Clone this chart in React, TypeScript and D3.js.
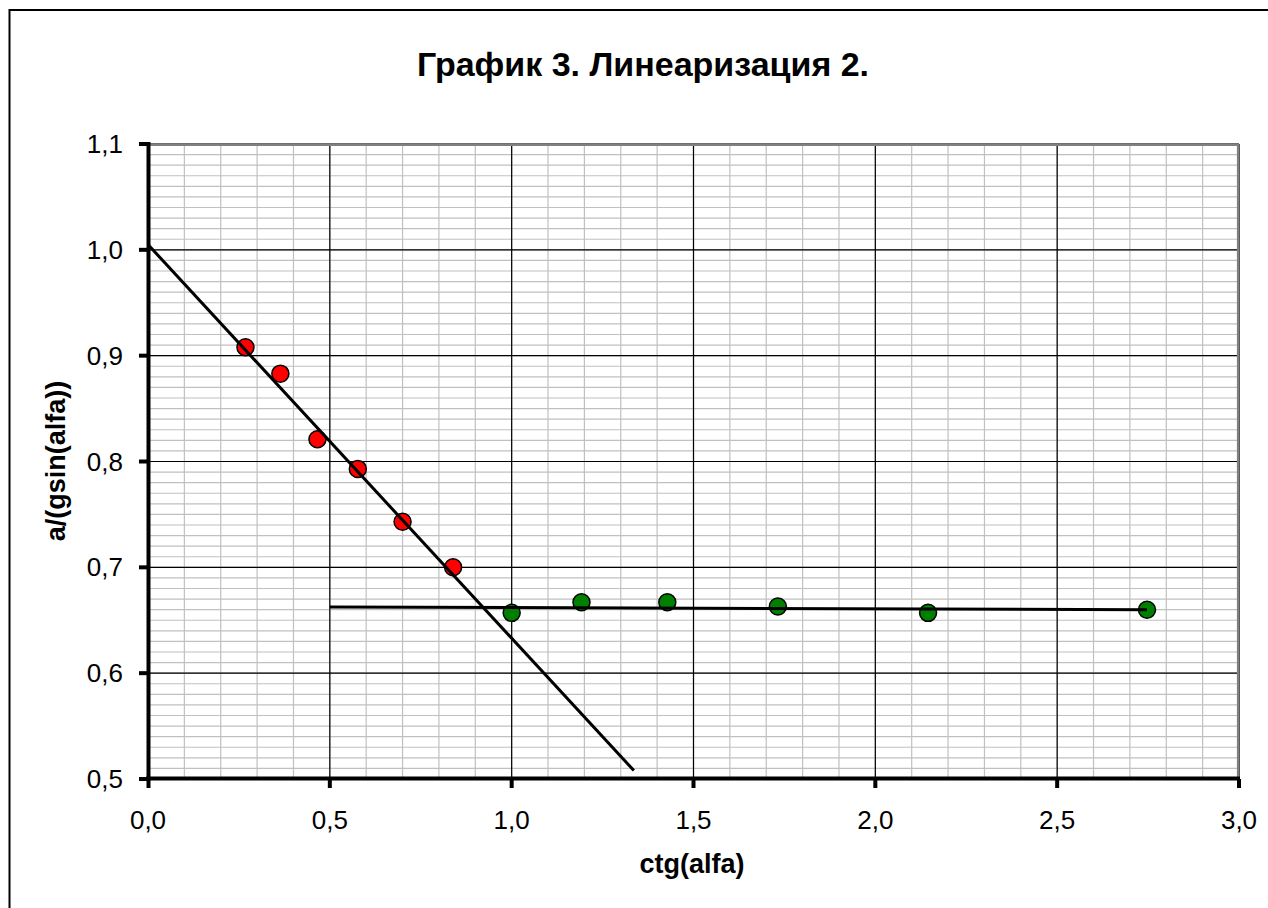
import React from 'react';
import * as d3 from 'd3';

const redX = [0.268, 0.364, 0.466, 0.577, 0.700, 0.839];
const redY = [0.908, 0.883, 0.821, 0.793, 0.743, 0.700];
const greenX = [1.000, 1.192, 1.428, 1.732, 2.145, 2.747];
const greenY = [0.657, 0.667, 0.667, 0.663, 0.657, 0.660];
const redTrendX = [0, 1.336];
const redTrendY = [1.005, 0.508];
const greenTrendX = [0.5, 2.747];
const greenTrendY = [0.6625, 0.660];
const xTicks = [0, 0.5, 1.0, 1.5, 2.0, 2.5, 3.0];
const yTicks = [0.5, 0.6, 0.7, 0.8, 0.9, 1.0, 1.1];
const xMinorStep = 0.1;
const yMinorStep = 0.01;
const title = 'График 3. Линеаризация 2.';
const xTitle = 'ctg(alfa)';
const yTitle = 'a/(gsin(alfa))';

const W = 1268;
const H = 908;
const L = 148, R = 1239, T = 144, B = 779;
const FONT = '"Liberation Sans", Arial, sans-serif';

export default function App() {
  const x = d3.scaleLinear().domain([0, 3]).range([L, R]);
  const y = d3.scaleLinear().domain([0.5, 1.1]).range([B, T]);
  const fmt = (v: number) => d3.format('.1f')(v).replace('.', ',');

  const xMinor = d3.range(0, Math.round(3 / xMinorStep) + 1).map((i) => i * xMinorStep);
  const yMinor = d3.range(0, Math.round(0.6 / yMinorStep) + 1).map((i) => 0.5 + i * yMinorStep);

  const line = d3
    .line<[number, number]>()
    .x((d) => x(d[0]))
    .y((d) => y(d[1]));
  const redTrend = redTrendX.map((v, i) => [v, redTrendY[i]] as [number, number]);
  const greenTrend = greenTrendX.map((v, i) => [v, greenTrendY[i]] as [number, number]);

  return (
    <svg
      width={W}
      height={H}
      style={{ position: 'absolute', left: 0, top: 0, background: '#fff' }}
      fontFamily={FONT}
    >
      <rect x={0} y={0} width={W} height={H} fill="#fff" />
      <rect x={9.5} y={10} width={W + 20} height={H + 20} fill="none" stroke="#000" strokeWidth={2} />

      {/* minor grid */}
      {yMinor.map((v, i) => (
        <line key={'ym' + i} x1={L} x2={R} y1={y(v)} y2={y(v)} stroke="#c0c0c0" strokeWidth={1.2} />
      ))}
      {xMinor.map((v, i) => (
        <line key={'xm' + i} x1={x(v)} x2={x(v)} y1={T} y2={B} stroke="#c0c0c0" strokeWidth={1.2} />
      ))}
      {/* major grid */}
      {yTicks.map((v, i) => (
        <line key={'yM' + i} x1={L} x2={R} y1={y(v)} y2={y(v)} stroke="#000" strokeWidth={1.2} />
      ))}
      {xTicks.map((v, i) => (
        <line key={'xM' + i} x1={x(v)} x2={x(v)} y1={T} y2={B} stroke="#000" strokeWidth={1.2} />
      ))}
      {/* plot border top/right */}
      <line x1={L} x2={R} y1={T + 1} y2={T + 1} stroke="#808080" strokeWidth={2.2} />
      <line x1={R - 1} x2={R - 1} y1={T} y2={B} stroke="#808080" strokeWidth={2.2} />

      {/* markers */}
      {redX.map((v, i) => (
        <circle key={'r' + i} cx={x(v)} cy={y(redY[i])} r={8.5} fill="#ff0000" stroke="#000" strokeWidth={1.5} />
      ))}
      {greenX.map((v, i) => (
        <circle key={'g' + i} cx={x(v)} cy={y(greenY[i])} r={8.5} fill="#008000" stroke="#000" strokeWidth={1.5} />
      ))}

      {/* trend lines */}
      <path d={line(redTrend) || ''} fill="none" stroke="#000" strokeWidth={3} />
      <path d={line(greenTrend) || ''} fill="none" stroke="#000" strokeWidth={3} />

      {/* axes */}
      <line x1={L + 0.5} x2={L + 0.5} y1={T - 2} y2={B + 2} stroke="#000" strokeWidth={4} />
      <line x1={L - 2} x2={R + 1} y1={B - 0.5} y2={B - 0.5} stroke="#000" strokeWidth={4} />
      {yTicks.map((v, i) => (
        <line key={'yt' + i} x1={L - 9} x2={L} y1={y(v)} y2={y(v)} stroke="#000" strokeWidth={4} />
      ))}
      {xTicks.map((v, i) => (
        <line key={'xt' + i} x1={x(v) + (i === 0 ? 0.5 : 0)} x2={x(v) + (i === 0 ? 0.5 : 0)} y1={B} y2={B + 9} stroke="#000" strokeWidth={4} />
      ))}

      {/* tick labels */}
      {yTicks.map((v, i) => (
        <text key={'yl' + i} x={123} y={y(v)} dy="0.35em" textAnchor="end" fontSize={26} fill="#000">
          {fmt(v)}
        </text>
      ))}
      {xTicks.map((v, i) => (
        <text key={'xl' + i} x={x(v)} y={829} textAnchor="middle" fontSize={26} fill="#000">
          {fmt(v)}
        </text>
      ))}

      {/* titles */}
      <text x={643} y={76} textAnchor="middle" fontSize={34} fontWeight="bold" fill="#000">
        {title}
      </text>
      <text x={692} y={873} textAnchor="middle" fontSize={27} fontWeight="bold" fill="#000">
        {xTitle}
      </text>
      <text
        transform={`translate(65, 461) rotate(-90)`}
        textAnchor="middle"
        fontSize={27}
        fontWeight="bold"
        fill="#000"
      >
        {yTitle}
      </text>
    </svg>
  );
}
